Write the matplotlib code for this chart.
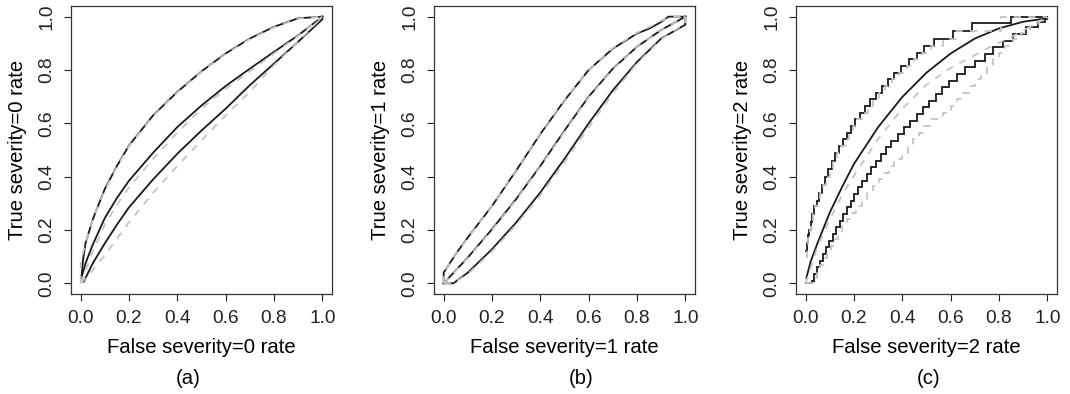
import matplotlib
matplotlib.use("Agg")
import matplotlib.pyplot as plt

plt.rcParams['font.family'] = ['Liberation Sans', 'DejaVu Sans']

# ---------------- data ----------------
# Panel (a)
a_up_x = [0.003, 0.01, 0.02, 0.05, 0.1, 0.15, 0.2, 0.3, 0.4, 0.5, 0.6, 0.7, 0.8, 0.9, 1.0]
a_up_y = [0.02, 0.09, 0.15, 0.24, 0.354, 0.44, 0.517, 0.63, 0.718, 0.795, 0.862, 0.918, 0.962, 0.994, 1.0]
a_mid_x = [0.003, 0.02, 0.05, 0.1, 0.15, 0.2, 0.3, 0.4, 0.5, 0.6, 0.7, 0.8, 0.9, 1.0]
a_mid_y = [0.02, 0.075, 0.145, 0.245, 0.32, 0.385, 0.49, 0.586, 0.667, 0.74, 0.805, 0.868, 0.93, 1.0]
a_low_x = [0.005, 0.012, 0.05, 0.1, 0.15, 0.2, 0.3, 0.4, 0.5, 0.6, 0.7, 0.8, 0.9, 1.0, 1.0]
a_low_y = [0.015, 0.005, 0.075, 0.15, 0.22, 0.285, 0.39, 0.486, 0.573, 0.655, 0.743, 0.824, 0.906, 0.99, 1.0]
ag_up_x = [0.0, 0.0, 0.02, 0.05, 0.1, 0.15, 0.2, 0.3, 0.4, 0.5, 0.6, 0.7, 0.8, 0.9, 1.0]
ag_up_y = [0.0, 0.08, 0.15, 0.24, 0.35, 0.437, 0.515, 0.628, 0.716, 0.794, 0.86, 0.916, 0.96, 0.993, 1.0]
ag_mid_x = [0.0, 0.05, 0.1, 0.15, 0.2, 0.3, 0.4, 0.5, 0.6, 0.7, 0.8, 0.9, 1.0]
ag_mid_y = [0.0, 0.12, 0.22, 0.295, 0.36, 0.467, 0.565, 0.655, 0.73, 0.795, 0.862, 0.928, 1.0]
ag_low_x = [0.0, 0.05, 0.1, 0.15, 0.2, 0.3, 0.4, 0.5, 0.6, 0.7, 0.8, 0.9, 1.0]
ag_low_y = [0.0, 0.05, 0.105, 0.168, 0.228, 0.34, 0.44, 0.536, 0.63, 0.718, 0.818, 0.906, 1.0]

# Panel (b)
b_up_x = [0.0, 0.0, 0.05, 0.1, 0.2, 0.3, 0.4, 0.5, 0.6, 0.7, 0.8, 0.85, 0.88, 0.9, 0.93, 1.0]
b_up_y = [0.0, 0.04, 0.11, 0.172, 0.29, 0.423, 0.56, 0.686, 0.8, 0.88, 0.937, 0.955, 0.97, 0.98, 1.0, 1.0]
b_mid_x = [0.0, 0.1, 0.2, 0.3, 0.4, 0.5, 0.6, 0.7, 0.8, 0.9, 1.0]
b_mid_y = [0.0, 0.097, 0.203, 0.316, 0.44, 0.573, 0.70, 0.805, 0.887, 0.95, 1.0]
b_low_x = [0.0, 0.04, 0.1, 0.2, 0.3, 0.4, 0.5, 0.6, 0.7, 0.8, 0.9, 1.0, 1.0]
b_low_y = [0.0, 0.0, 0.04, 0.128, 0.228, 0.341, 0.467, 0.6, 0.724, 0.83, 0.918, 0.97, 1.0]
bg_up_x = [0.0, 0.0, 0.05, 0.1, 0.2, 0.3, 0.4, 0.5, 0.6, 0.7, 0.8, 0.86, 0.9, 0.95, 1.0]
bg_up_y = [0.0, 0.04, 0.11, 0.17, 0.29, 0.425, 0.562, 0.688, 0.8, 0.882, 0.94, 0.965, 0.985, 1.0, 1.0]
bg_mid_x = [0.0, 0.1, 0.2, 0.3, 0.4, 0.5, 0.6, 0.7, 0.8, 0.9, 1.0]
bg_mid_y = [0.0, 0.095, 0.2, 0.313, 0.437, 0.57, 0.697, 0.803, 0.886, 0.95, 1.0]
bg_low_x = [0.0, 0.04, 0.1, 0.2, 0.3, 0.4, 0.5, 0.6, 0.7, 0.8, 0.9, 1.0, 1.0]
bg_low_y = [0.0, 0.0, 0.035, 0.12, 0.22, 0.33, 0.455, 0.585, 0.712, 0.825, 0.915, 0.975, 1.0]

# Panel (c)  (stair-step bounds)
c_up_x = [0.0, 0.004, 0.008, 0.014, 0.020, 0.028, 0.036, 0.046, 0.056, 0.068, 0.080, 0.094,
          0.108, 0.122, 0.138, 0.154, 0.170, 0.186, 0.204, 0.224, 0.244, 0.266, 0.290, 0.314,
          0.340, 0.366, 0.396, 0.428, 0.460, 0.490, 0.530, 0.610, 0.690, 0.850, 1.0]
c_up_y = [0.12, 0.15, 0.18, 0.20, 0.23, 0.26, 0.29, 0.31, 0.34, 0.37, 0.40, 0.43,
          0.46, 0.49, 0.515, 0.54, 0.565, 0.59, 0.615, 0.64, 0.665, 0.69, 0.715, 0.74,
          0.765, 0.79, 0.815, 0.84, 0.865, 0.89, 0.918, 0.945, 0.975, 1.0, 1.0]
cg_up_x = [0.0, 0.005, 0.010, 0.016, 0.023, 0.031, 0.040, 0.050, 0.061, 0.073, 0.086, 0.100,
           0.114, 0.129, 0.145, 0.161, 0.178, 0.195, 0.214, 0.234, 0.256, 0.280, 0.304, 0.330,
           0.356, 0.386, 0.418, 0.450, 0.482, 0.520, 0.570, 0.620, 0.810, 1.0]
cg_up_y = [0.10, 0.14, 0.17, 0.20, 0.23, 0.26, 0.29, 0.31, 0.34, 0.37, 0.40, 0.43,
           0.46, 0.49, 0.515, 0.54, 0.565, 0.59, 0.615, 0.64, 0.665, 0.69, 0.715, 0.74,
           0.765, 0.79, 0.815, 0.84, 0.865, 0.89, 0.918, 0.945, 1.0, 1.0]
c_low_x = [0.0, 0.027, 0.035, 0.048, 0.060, 0.072, 0.085, 0.098, 0.112, 0.126, 0.140, 0.155,
           0.170, 0.186, 0.202, 0.218, 0.235, 0.252, 0.270, 0.290, 0.310, 0.332, 0.355, 0.380,
           0.405, 0.432, 0.460, 0.485, 0.510, 0.538, 0.565, 0.595, 0.625, 0.660, 0.700, 0.740,
           0.775, 0.815, 0.860, 0.910, 0.960, 0.990, 1.0]
c_low_y = [0.0, 0.01, 0.035, 0.06, 0.085, 0.11, 0.135, 0.16, 0.185, 0.21, 0.235, 0.26,
           0.285, 0.31, 0.335, 0.36, 0.385, 0.41, 0.435, 0.46, 0.485, 0.51, 0.535, 0.56,
           0.585, 0.61, 0.635, 0.66, 0.685, 0.71, 0.735, 0.76, 0.785, 0.81, 0.835, 0.86,
           0.885, 0.91, 0.935, 0.96, 0.98, 0.99, 1.0]
cg_low_x = [0.0, 0.030, 0.045, 0.060, 0.075, 0.090, 0.105, 0.120, 0.135, 0.152, 0.170, 0.190,
            0.210, 0.232, 0.255, 0.280, 0.305, 0.325, 0.345, 0.365, 0.400, 0.425, 0.445, 0.470,
            0.490, 0.520, 0.570, 0.600, 0.625, 0.650, 0.675, 0.700, 0.725, 0.750, 0.775, 0.800,
            0.825, 0.860, 0.890, 0.930, 0.965, 1.0]
cg_low_y = [0.0, 0.02, 0.045, 0.07, 0.095, 0.12, 0.14, 0.165, 0.19, 0.215, 0.24, 0.265,
            0.29, 0.315, 0.34, 0.365, 0.39, 0.415, 0.44, 0.465, 0.49, 0.515, 0.54, 0.565,
            0.59, 0.615, 0.64, 0.665, 0.69, 0.715, 0.74, 0.765, 0.79, 0.815, 0.84, 0.865,
            0.89, 0.915, 0.94, 0.965, 0.985, 1.0]
c_mid_x = [0.003, 0.02, 0.05, 0.1, 0.15, 0.2, 0.3, 0.4, 0.5, 0.6, 0.7, 0.8, 0.9, 1.0]
c_mid_y = [0.02, 0.08, 0.153, 0.266, 0.36, 0.448, 0.586, 0.699, 0.79, 0.862, 0.918, 0.956, 0.981, 0.994]
cg_mid_x = [0.0, 0.05, 0.1, 0.15, 0.2, 0.3, 0.4, 0.5, 0.6, 0.75, 0.89, 1.0]
cg_mid_y = [0.0, 0.14, 0.24, 0.33, 0.404, 0.542, 0.655, 0.745, 0.808, 0.88, 0.942, 1.0]

ticks = [0.0, 0.2, 0.4, 0.6, 0.8, 1.0]
tick_labels = ["0.0", "0.2", "0.4", "0.6", "0.8", "1.0"]
xlabels = ["False severity=0 rate", "False severity=1 rate", "False severity=2 rate"]
ylabels = ["True severity=0 rate", "True severity=1 rate", "True severity=2 rate"]
captions = ["(a)", "(b)", "(c)"]

# ---------------- figure ----------------
W, H = 1070, 394
fig = plt.figure(figsize=(W / 100, H / 100), dpi=100)

lefts = [71, 434, 796]
ax_w, top, bottom = 261, 6, 294
cap_x = [188, 581, 929]

GREY = "#c4c4c4"
BLACK = "#1a1a1a"
lw = 1.3

panels = [
    dict(black=[(a_up_x, a_up_y, False), (a_mid_x, a_mid_y, False), (a_low_x, a_low_y, False)],
         grey=[(ag_up_x, ag_up_y, False), (ag_mid_x, ag_mid_y, False), (ag_low_x, ag_low_y, False)]),
    dict(black=[(b_up_x, b_up_y, False), (b_mid_x, b_mid_y, False), (b_low_x, b_low_y, False)],
         grey=[(bg_up_x, bg_up_y, False), (bg_mid_x, bg_mid_y, False), (bg_low_x, bg_low_y, False)]),
    dict(black=[(c_up_x, c_up_y, True), (c_mid_x, c_mid_y, False), (c_low_x, c_low_y, True)],
         grey=[(cg_up_x, cg_up_y, True), (cg_mid_x, cg_mid_y, False), (cg_low_x, cg_low_y, True)]),
]

for i, p in enumerate(panels):
    ax = fig.add_axes([lefts[i] / W, (H - bottom) / H, ax_w / W, (bottom - top) / H])
    for (x, y, st) in p["black"]:
        ax.plot(x, y, color=BLACK, lw=lw, drawstyle="steps-post" if st else "default",
                solid_joinstyle="miter")
    for (x, y, st) in p["grey"]:
        ax.plot(x, y, color=GREY, lw=lw, ls=(0, (4, 4)),
                drawstyle="steps-post" if st else "default")
    ax.set_xlim(-0.04, 1.04)
    ax.set_ylim(-0.04, 1.04)
    ax.set_xticks(ticks)
    ax.set_xticklabels(tick_labels)
    ax.set_yticks(ticks)
    ax.set_yticklabels(tick_labels, rotation=90, va="center")
    ax.tick_params(direction="out", length=5, width=0.8, labelsize=13.8, pad=6.5, colors="#222222")
    for s in ax.spines.values():
        s.set_linewidth(0.9)
        s.set_color("#333333")
    ax.set_xlabel(xlabels[i], fontsize=14.6, labelpad=8)
    ax.set_ylabel(ylabels[i], fontsize=14.6, labelpad=8)
    fig.text(cap_x[i] / W, 1 - 378 / H, captions[i], fontsize=14.6, ha="center", va="center")

fig.savefig("out.png", dpi=100)
